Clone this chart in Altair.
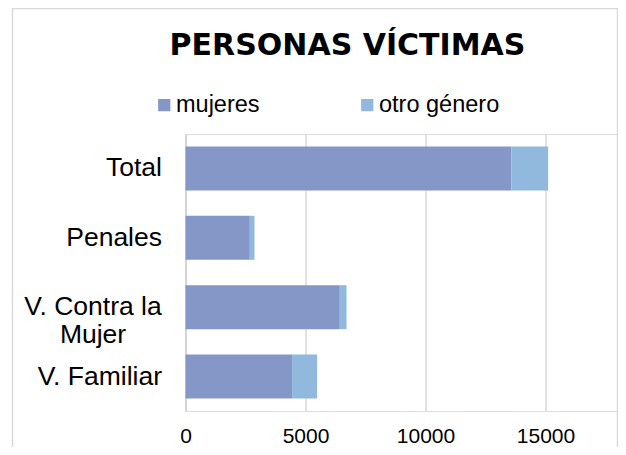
import altair as alt
import pandas as pd

categories = ["Total", "Penales", "V. Contra la Mujer", "V. Familiar"]
mujeres = [13580, 2680, 6430, 4440]
otro_genero = [1530, 195, 280, 1045]
series_names = ["mujeres", "otro género"]
x_ticks = [0, 5000, 10000, 15000]

rows = []
for c, m, o in zip(categories, mujeres, otro_genero):
    rows.append({"cat": c, "serie": series_names[0], "valor": m, "orden": 0})
    rows.append({"cat": c, "serie": series_names[1], "valor": o, "orden": 1})
df = pd.DataFrame(rows)

FONT = "Liberation Sans"
TWO_LINE = "datum.label == 'V. Contra la Mujer'"

bars = alt.Chart(df).mark_bar(opacity=1).encode(
    y=alt.Y(
        "cat:N",
        sort=categories,
        title=None,
        scale=alt.Scale(paddingInner=0.365, paddingOuter=0.18),
        axis=alt.Axis(
            labelFont=FONT,
            labelFontSize=26.5,
            labelColor="#000000",
            labelAlign={"condition": {"test": TWO_LINE, "value": "center"}, "value": "right"},
            labelPadding={"condition": {"test": TWO_LINE, "value": 93}, "value": 24},
            labelLimit=300,
            labelLineHeight=28,
            ticks=False,
            domain=True,
            domainColor="#d0d0d0",
            domainWidth=1.5,
            grid=False,
            labelExpr="datum.label == 'V. Contra la Mujer' ? ['V. Contra la', 'Mujer'] : datum.label",
        ),
    ),
    x=alt.X(
        "valor:Q",
        stack="zero",
        title=None,
        scale=alt.Scale(domain=[0, 18000], nice=False),
        axis=alt.Axis(
            values=x_ticks,
            format="d",
            labelFont=FONT,
            labelFontSize=21,
            labelColor="#000000",
            labelPadding=14,
            ticks=False,
            domain=False,
            grid=True,
            gridColor="#d9d9d9",
            gridWidth=1.5,
            labelFlush=False,
        ),
    ),
    color=alt.Color(
        "serie:N",
        scale=alt.Scale(domain=series_names, range=["#8497C7", "#91B8DD"]),
        legend=alt.Legend(
            title=None,
            orient="none",
            direction="horizontal",
            legendX=-33,
            legendY=-41,
            symbolType="square",
            symbolSize=150,
            symbolStrokeWidth=0,
            labelFont=FONT,
            labelFontSize=23.5,
            labelColor="#000000",
            labelOffset=0,
            columnPadding=59,
            gridAlign="all",
            labelLimit=300,
        ),
    ),
    order=alt.Order("orden:Q"),
)

border = alt.Chart(alt.Data(values=[{"a": 1}])).mark_rect(
    fill=None, stroke="#d9d9d9", strokeWidth=1.5
).encode(
    x=alt.value(-173),
    x2=alt.value(432),
    y=alt.value(-125.5),
    y2=alt.value(400),
)

chart = alt.layer(border, bars).properties(
    width=432,
    height=277,
    title=alt.TitleParams(
        text="PERSONAS VÍCTIMAS",
        font="DejaVu Sans",
        fontSize=30,
        fontWeight="bold",
        color="#000000",
        anchor="middle",
        frame="group",
        dx=-54,
        offset=0,
        dy=77,
        baseline="alphabetic",
    ),
    autosize=alt.AutoSizeParams(type="none"),
    padding={"left": 177.5, "top": 126, "right": 0.5, "bottom": 36},
).configure_view(stroke="transparent", strokeWidth=0).configure(background="#ffffff")

chart.save("out.html", embed_options={"renderer": "svg", "actions": False})
